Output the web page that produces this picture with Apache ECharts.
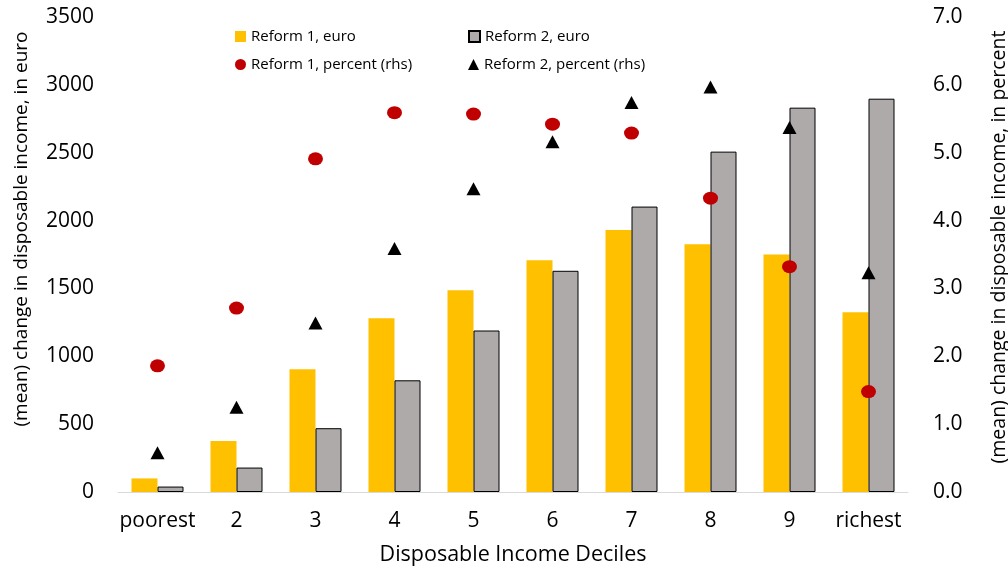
<html>
<head>
    <meta charset="utf-8">
    <script src="https://cdn.jsdelivr.net/npm/echarts@6/dist/echarts.min.js"></script>
</head>
<body style="margin:0">
<div id="main" style="width: 1008px;height:571px;"></div>
<script>
    // deciles
    var deciles = ['poorest', '2', '3', '4', '5', '6', '7', '8', '9', 'richest'];
    // mean change in euro (left axis)
    var reform1Euro = [100, 375, 905, 1280, 1487, 1707, 1930, 1825, 1750, 1325];
    var reform2Euro = [40, 180, 470, 823, 1190, 1630, 2103, 2508, 2832, 2898];
    // change in percent (right axis)
    var reform1Pct = [1.86, 2.71, 4.91, 5.59, 5.57, 5.42, 5.29, 4.33, 3.32, 1.48];
    var reform2Pct = [0.58, 1.25, 2.49, 3.59, 4.47, 5.16, 5.74, 5.97, 5.37, 3.23];

    var font = 'Open Sans';
    var myChart = echarts.init(document.getElementById('main'));

    function legendItem(name, left, top, icon) {
        return {
            data: [name],
            left: left,
            top: top,
            icon: icon,
            itemWidth: 11,
            itemHeight: 11,
            itemGap: 5,
            padding: 0,
            textStyle: {fontFamily: font, fontSize: 15, color: '#000'}
        };
    }

    var option = {
        animation: false,
        textStyle: {fontFamily: font},
        legend: [
            legendItem('Reform 1, euro', 235, 29, 'rect'),
            legendItem('Reform 2, euro', 468, 29, 'rect'),
            legendItem('Reform 1, percent (rhs)', 235, 57, 'circle'),
            legendItem('Reform 2, percent (rhs)', 468, 57, 'triangle')
        ],
        // y axis titles sit a bit above the middle in the original
        graphic: [
            {
                type: 'text', x: 22, y: 229, rotation: Math.PI / 2,
                style: {
                    text: '(mean) change in disposable income, in euro',
                    fontFamily: font, fontSize: 19, fill: '#000',
                    align: 'center', verticalAlign: 'middle'
                }
            },
            {
                type: 'text', x: 999, y: 247, rotation: Math.PI / 2,
                style: {
                    text: '(mean) change in disposable income, in percent',
                    fontFamily: font, fontSize: 19.5, fill: '#000',
                    align: 'center', verticalAlign: 'middle'
                }
            }
        ],
        grid: {left: 118, right: 100, top: 17, bottom: 78},
        xAxis: {
            type: 'category',
            data: deciles,
            name: 'Disposable Income Deciles',
            nameLocation: 'middle',
            nameGap: 52,
            nameTextStyle: {fontFamily: font, fontSize: 21.5, color: '#000'},
            axisLine: {lineStyle: {color: '#d9d9d9', width: 1}},
            axisTick: {show: false},
            axisLabel: {fontFamily: font, fontSize: 21, color: '#000', margin: 19, interval: 0}
        },
        yAxis: [
            {
                type: 'value',
                min: 0, max: 3500, interval: 500,
                axisLine: {show: false},
                axisTick: {show: false},
                splitLine: {show: false},
                axisLabel: {
                    fontFamily: font, fontSize: 21, color: '#000', margin: 24,
                    formatter: function (v) { return String(v); }
                }
            },
            {
                type: 'value',
                min: 0, max: 7, interval: 1,
                position: 'right',
                axisLine: {show: false},
                axisTick: {show: false},
                splitLine: {show: false},
                axisLabel: {
                    fontFamily: font, fontSize: 21, color: '#000', margin: 25,
                    formatter: function (v) { return v.toFixed(1); }
                }
            }
        ],
        series: [
            {
                name: 'Reform 1, euro',
                type: 'bar',
                data: reform1Euro,
                barWidth: 26,
                barGap: '0%',
                itemStyle: {color: '#FFC000'}
            },
            {
                name: 'Reform 2, euro',
                type: 'bar',
                data: reform2Euro,
                barWidth: 26,
                itemStyle: {color: '#AEAAAA', borderColor: '#000', borderWidth: 1}
            },
            {
                name: 'Reform 1, percent (rhs)',
                type: 'scatter',
                yAxisIndex: 1,
                data: reform1Pct,
                symbol: 'circle',
                symbolSize: [15, 13],
                itemStyle: {color: '#C00000', opacity: 1},
                z: 5
            },
            {
                name: 'Reform 2, percent (rhs)',
                type: 'scatter',
                yAxisIndex: 1,
                data: reform2Pct,
                symbol: 'triangle',
                symbolSize: [14, 13],
                itemStyle: {color: '#000', opacity: 1},
                z: 6
            }
        ]
    };

    myChart.setOption(option);
</script>
</body>
</html>
